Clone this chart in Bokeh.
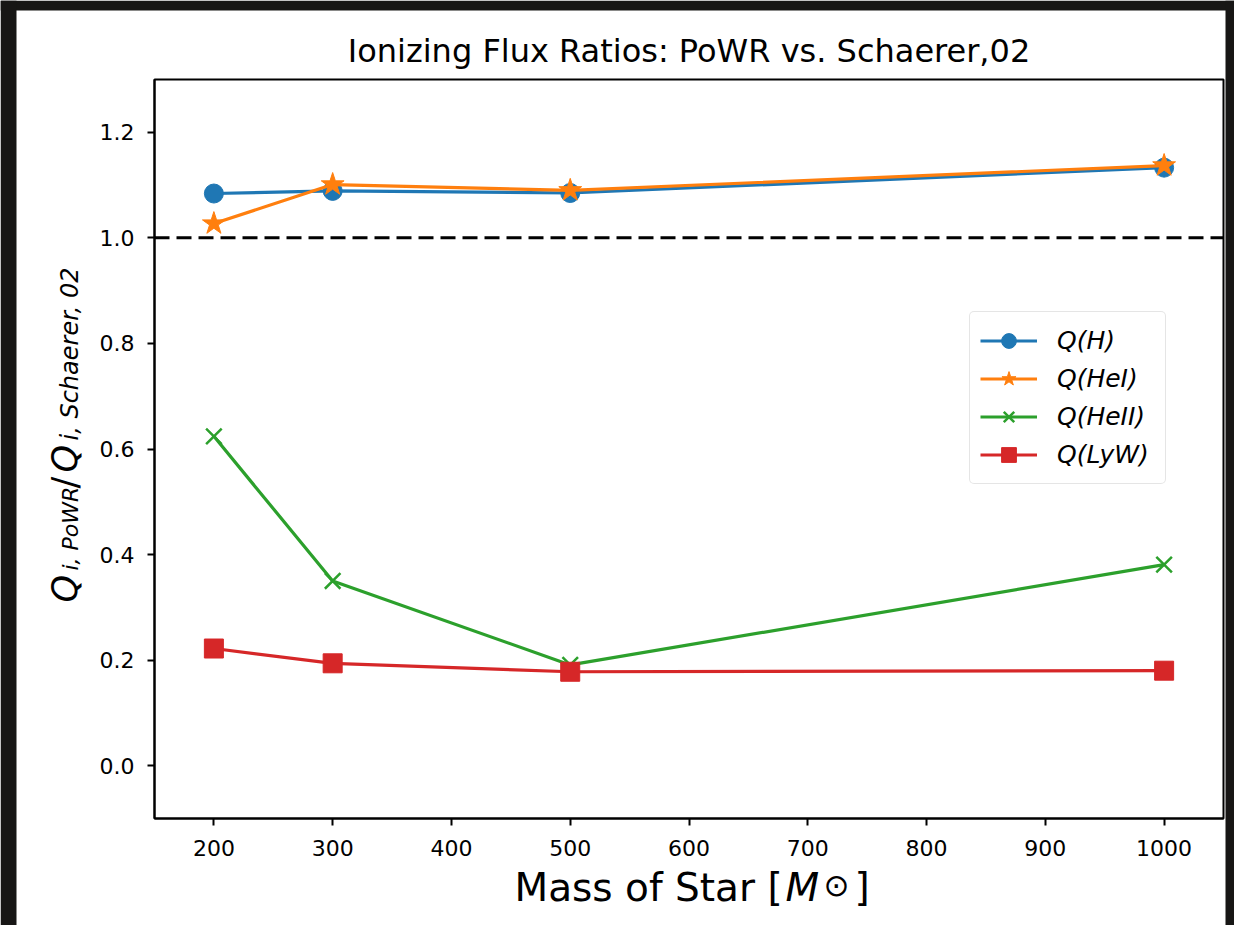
from bokeh.plotting import figure
from bokeh.models import (Legend, LegendItem, FixedTicker, PrintfTickFormatter,
                          Label, Range1d, BoxAnnotation)
from bokeh.embed import file_html
from bokeh.resources import INLINE
import math

# ---- data ----
mass = [200, 300, 500, 1000]
q_h = [1.084, 1.089, 1.085, 1.133]
q_hei = [1.027, 1.101, 1.090, 1.137]
q_heii = [0.624, 0.350, 0.191, 0.381]
q_lyw = [0.222, 0.194, 0.178, 0.180]

x_ticks = [200, 300, 400, 500, 600, 700, 800, 900, 1000]
y_ticks = [0.0, 0.2, 0.4, 0.6, 0.8, 1.0, 1.2]
x_lim = (150, 1050)
y_lim = (-0.1, 1.3)
ref_level = 1.0

title_text = "Ionizing Flux Ratios: PoWR vs. Schaerer,02"
legend_labels = ["Q(H)", "Q(HeI)", "Q(HeII)", "Q(LyW)"]

C_BLUE, C_ORANGE, C_GREEN, C_RED = "#1f77b4", "#ff7f0e", "#2ca02c", "#d62728"
FONT = "DejaVu Sans"

# ---- layout (canvas pixels) ----
W, H = 1234, 925
FL, FR, FT, FB = 154, 1223, 79, 818          # the drawn axes box
sxu = (FR - FL) / (x_lim[1] - x_lim[0])
syu = (FB - FT) / (y_lim[1] - y_lim[0])
xr = Range1d(x_lim[0] - FL / sxu, x_lim[1] + (W - FR) / sxu)
yr = Range1d(y_lim[0] - (H - FB) / syu, y_lim[1] + FT / syu)

p = figure(width=W, height=H, output_backend="svg", toolbar_location=None,
           x_range=xr, y_range=yr,
           min_border_left=0, min_border_right=0, min_border_top=0, min_border_bottom=0)
p.outline_line_color = None
p.xgrid.visible = False
p.ygrid.visible = False
p.background_fill_color = "white"
p.border_fill_color = "white"

# dark screenshot edges
for kw in (dict(left=0, right=W, top=H, bottom=H - 10),
           dict(left=0, right=16, top=H, bottom=0),
           dict(left=1225, right=W, top=H, bottom=0)):
    p.add_layout(BoxAnnotation(left_units="screen", right_units="screen",
                               top_units="screen", bottom_units="screen",
                               fill_color="#171615", fill_alpha=1, line_color=None,
                               level="underlay", **kw))

# axes box
p.add_layout(BoxAnnotation(left=x_lim[0], right=x_lim[1], bottom=y_lim[0], top=y_lim[1],
                           fill_alpha=0, line_color="black", line_alpha=1,
                           line_width=2, level="overlay"))

xa, ya = p.xaxis[0], p.yaxis[0]
xa.fixed_location = y_lim[0]
ya.fixed_location = x_lim[0]
xa.bounds = x_lim
ya.bounds = y_lim
for ax in (xa, ya):
    ax.axis_line_width = 2
    ax.major_tick_line_width = 2
    ax.major_tick_out = 7
    ax.major_tick_in = 0
    ax.minor_tick_line_color = None
    ax.major_label_text_font = FONT
    ax.major_label_text_font_size = "22px"
    ax.major_label_text_color = "black"
xa.ticker = FixedTicker(ticks=x_ticks)
ya.ticker = FixedTicker(ticks=y_ticks)
ya.formatter = PrintfTickFormatter(format="%.1f")
xa.major_label_standoff = 14
ya.major_label_standoff = 13

# reference line
p.line(list(x_lim), [ref_level, ref_level], line_color="black", line_width=3,
       line_dash="15 7")

lw = 3.2
l1 = p.line(mass, q_h, line_color=C_BLUE, line_width=lw)
m1 = p.scatter(mass, q_h, marker="circle", size=19, fill_color=C_BLUE, line_color=C_BLUE)
l2 = p.line(mass, q_hei, line_color=C_ORANGE, line_width=lw)
m2 = p.scatter(mass, q_hei, marker="star", size=24, fill_color=C_ORANGE, line_color=C_ORANGE)
l3 = p.line(mass, q_heii, line_color=C_GREEN, line_width=lw)
m3 = p.scatter(mass, q_heii, marker="x", size=22, line_color=C_GREEN, line_width=2.5)
l4 = p.line(mass, q_lyw, line_color=C_RED, line_width=lw)
m4 = p.scatter(mass, q_lyw, marker="square", size=19, fill_color=C_RED, line_color=C_RED)

legend = Legend(items=[LegendItem(label=legend_labels[0], renderers=[l1, m1]),
                       LegendItem(label=legend_labels[1], renderers=[l2, m2]),
                       LegendItem(label=legend_labels[2], renderers=[l3, m3]),
                       LegendItem(label=legend_labels[3], renderers=[l4, m4])],
                location=(969, H - 484),
                label_text_font=FONT, label_text_font_size="25px",
                label_text_font_style="italic", label_text_color="black",
                glyph_width=57, glyph_height=37, label_height=37, spacing=1,
                label_standoff=20, label_width=98, padding=10, margin=0,
                border_line_color="#cccccc", border_line_width=1.5,
                background_fill_color="white", background_fill_alpha=0.8)
try:
    legend.border_radius = 5
except Exception:
    pass
p.add_layout(legend, "center")

DY = 12.5   # baseline correction for Bokeh text placement


def lab(text, cx, cy, size, style="normal", angle=0.0, align="left"):
    if angle:
        cx = cx - DY
    else:
        cy = cy - DY
    p.add_layout(Label(x=cx, y=H - cy, x_units="screen", y_units="screen",
                       text=text, text_font=FONT, text_font_size=size,
                       text_font_style=style, text_align=align,
                       text_baseline="alphabetic", angle=angle,
                       text_color="black"))


# title
lab(title_text, (FL + FR) / 2, 62.5, "32px", align="center")

# x axis label: Mass of Star [M ⊙ ]
lab("Mass of Star [", 514, 899, "39px")
lab("M", 785, 899, "39px", "italic")
lab("\u2299", 823, 897, "31px")
lab("]", 854, 899, "39px")

# y axis label: Q_{i, PoWR}/Q_{i, Schaerer, 02}
A = math.pi / 2
lab("Q", 77, 602, "35px", "italic", A)
lab("i, PoWR", 82, 570, "22px", "italic", A)
lab("/", 77, 488, "35px", "normal", A)
lab("Q", 77, 472, "35px", "italic", A)
lab("i, Schaerer, 02", 82, 440, "24px", "italic", A)

open("out.html", "w").write(file_html(p, INLINE))
